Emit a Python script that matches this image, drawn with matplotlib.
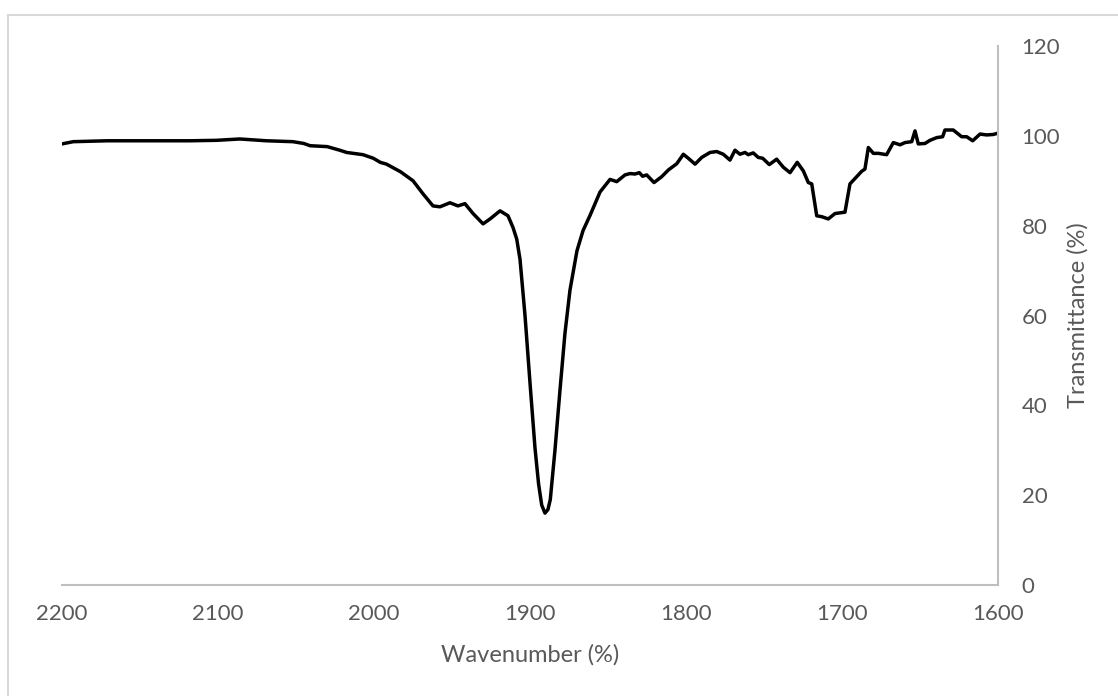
import matplotlib
matplotlib.use("Agg")
import matplotlib.pyplot as plt
from matplotlib.patches import Rectangle

plt.rcParams['font.family'] = ['Lato', 'DejaVu Sans']

wavenumber = [
    2200, 2192.8, 2171, 2139, 2118, 2101, 2086, 2069, 2052, 2045, 2041, 2030,
    2022, 2017.5, 2007, 2000.4, 1996, 1992, 1983, 1975, 1968.6, 1962.2, 1957.7,
    1951.3, 1946.2, 1941.7, 1936.5, 1930.1, 1925.6, 1919.2, 1914.1, 1910.9,
    1908.5, 1906.4, 1903.2, 1900, 1896.8, 1894.5, 1892.5, 1890.4, 1888.5,
    1887, 1884, 1880.8, 1877.6, 1874.4, 1869.9, 1866, 1861.5, 1855.1, 1848.7,
    1844.4, 1839.1, 1835.9, 1832.7, 1829.9, 1827.8, 1825.2, 1820.5, 1815.6,
    1811.3, 1805.9, 1801.7, 1798.5, 1794.2, 1789.9, 1784.6, 1780.3, 1776.1,
    1771.8, 1768.6, 1765.4, 1762.2, 1760.1, 1756.9, 1753.7, 1750.8, 1746.6,
    1741.9, 1737.6, 1733.3, 1728.7, 1724.8, 1721.6, 1719.4, 1716.2, 1713,
    1708.8, 1704.5, 1698.1, 1694.9, 1690.6, 1687.4, 1685.3, 1683.1, 1679.9,
    1676.7, 1671.4, 1667.1, 1662.8, 1659.6, 1655.3, 1653.2, 1651.1, 1646.8,
    1643.6, 1639.3, 1635.5, 1634, 1628.7, 1623.3, 1620.1, 1616.2, 1611.5,
    1607.3, 1603, 1600,
]
transmittance = [
    98.2, 98.7, 98.9, 98.9, 98.9, 99.0, 99.3, 98.9, 98.7, 98.3, 97.8, 97.6,
    96.8, 96.3, 95.8, 95.0, 94.1, 93.7, 92.0, 90.0, 87.1, 84.4, 84.2,
    85.1, 84.4, 84.9, 82.7, 80.4, 81.5, 83.3, 82.2, 79.6,
    77.0, 72.5, 60.0, 45.0, 30.5, 22.5, 17.8, 16.0, 16.8,
    19.0, 30.0, 43.3, 56.0, 65.6, 74.4, 78.9, 82.3, 87.5, 90.3,
    89.8, 91.3, 91.6, 91.5, 91.8, 91.0, 91.3, 89.6, 90.9,
    92.4, 93.8, 95.9, 95.0, 93.7, 95.2, 96.3, 96.5, 95.9,
    94.6, 96.8, 95.9, 96.3, 95.8, 96.2, 95.2, 95.0, 93.6,
    94.8, 93.0, 91.8, 94.1, 92.2, 89.6, 89.3, 82.2, 82.0,
    81.5, 82.7, 83.0, 89.3, 90.9, 92.1, 92.6, 97.4, 96.1,
    96.1, 95.8, 98.5, 98.0, 98.5, 98.7, 101.1, 98.2, 98.3,
    99.0, 99.6, 99.8, 101.3, 101.3, 99.8, 99.8, 98.9, 100.4,
    100.2, 100.3, 100.6,
]
x_ticks = [2200, 2100, 2000, 1900, 1800, 1700, 1600]
y_ticks = [0, 20, 40, 60, 80, 100, 120]

W, H = 1118, 696
fig = plt.figure(figsize=(W / 100, H / 100), dpi=100)
fig.patch.set_facecolor('white')

# chart-area frame
fig.patches.append(Rectangle((8 / W, -0.1), 1.2, (H - 15) / H + 0.1,
                             transform=fig.transFigure, fill=False,
                             edgecolor='#d9d9d9', linewidth=1.5))

ax = fig.add_axes([62 / W, (H - 585) / H, (998 - 62) / W, (585 - 46) / H])
ax.plot(wavenumber, transmittance, color='black', linewidth=2.5,
        solid_joinstyle='round', solid_capstyle='round')

ax.set_xlim(2200, 1600)
ax.set_ylim(0, 120)
ax.set_xticks(x_ticks)
ax.set_yticks(y_ticks)

for side in ('top', 'left'):
    ax.spines[side].set_visible(False)
for side in ('bottom', 'right'):
    ax.spines[side].set_color('#bfbfbf')
    ax.spines[side].set_linewidth(1.5)

ax.yaxis.tick_right()
ax.yaxis.set_label_position('right')
ax.tick_params(axis='both', length=0, labelsize=16, labelcolor='#595959')
ax.tick_params(axis='x', pad=14)
ax.tick_params(axis='y', pad=17)

ax.set_xlabel('Wavenumber (%)', fontsize=17, color='#595959', labelpad=14)
ax.set_ylabel('Transmittance (%)', fontsize=17, color='#595959', labelpad=5)

fig.savefig('out.png', dpi=100)
